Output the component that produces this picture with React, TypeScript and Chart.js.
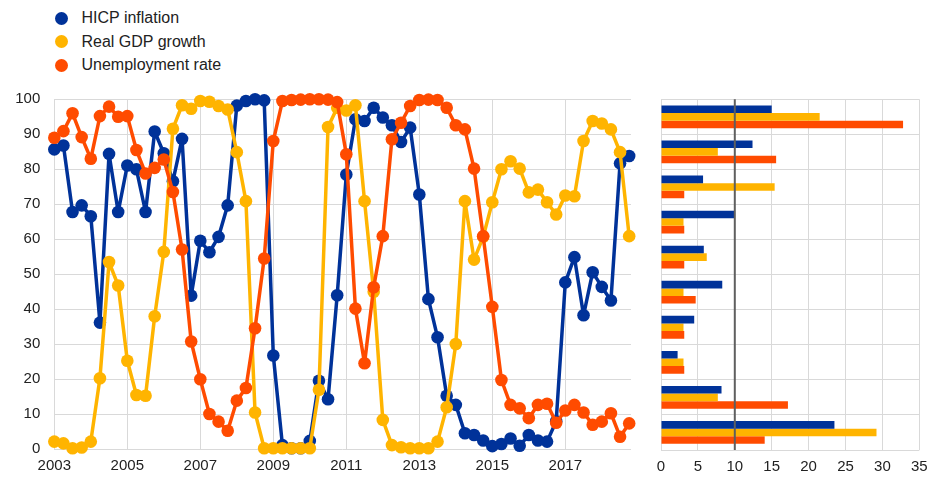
import React, { useEffect, useRef } from "react";
import { Chart, registerables } from "chart.js";

Chart.register(...registerables);

// ---------- data ----------
const quarters = [
  "2003Q1", "2003Q2", "2003Q3", "2003Q4", "2004Q1", "2004Q2", "2004Q3", "2004Q4",
  "2005Q1", "2005Q2", "2005Q3", "2005Q4", "2006Q1", "2006Q2", "2006Q3", "2006Q4",
  "2007Q1", "2007Q2", "2007Q3", "2007Q4", "2008Q1", "2008Q2", "2008Q3", "2008Q4",
  "2009Q1", "2009Q2", "2009Q3", "2009Q4", "2010Q1", "2010Q2", "2010Q3", "2010Q4",
  "2011Q1", "2011Q2", "2011Q3", "2011Q4", "2012Q1", "2012Q2", "2012Q3", "2012Q4",
  "2013Q1", "2013Q2", "2013Q3", "2013Q4", "2014Q1", "2014Q2", "2014Q3", "2014Q4",
  "2015Q1", "2015Q2", "2015Q3", "2015Q4", "2016Q1", "2016Q2", "2016Q3", "2016Q4",
  "2017Q1", "2017Q2", "2017Q3", "2017Q4", "2018Q1", "2018Q2", "2018Q3", "2018Q4",
];

const hicpInflation = [
  85.7, 86.8, 67.8, 69.7, 66.6, 36.2, 84.4, 67.8,
  81.1, 80.0, 67.8, 90.8, 84.6, 76.6, 88.7, 43.9,
  59.6, 56.3, 60.7, 69.7, 98.2, 99.5, 100, 99.7,
  26.8, 1.2, 0.3, 0.3, 2.4, 19.6, 14.3, 44.0,
  78.5, 94.3, 93.8, 97.6, 94.8, 92.6, 87.8, 91.9,
  72.8, 42.9, 32.0, 15.3, 12.7, 4.6, 4.1, 2.5,
  0.9, 1.5, 3.1, 1.0, 4.1, 2.5, 2.2, 8.0,
  47.7, 54.9, 38.3, 50.6, 46.4, 42.5, 81.7, 83.8,
];

const realGdpGrowth = [
  2.2, 1.7, 0.3, 0.5, 2.2, 20.3, 53.5, 46.8,
  25.3, 15.5, 15.3, 38.0, 56.4, 91.6, 98.3, 97.3,
  99.5, 99.3, 98.1, 97.1, 84.9, 70.9, 10.5, 0.3,
  0.3, 0.3, 0.3, 0.3, 0.3, 17.0, 92.1, 97.6,
  96.8, 98.3, 70.9, 45.0, 8.4, 1.2, 0.6, 0.3,
  0.3, 0.3, 2.2, 12.0, 30.1, 70.9, 54.2, 60.7,
  70.6, 80.0, 82.3, 80.2, 73.4, 74.2, 70.6, 67.1,
  72.5, 72.3, 88.1, 93.8, 93.1, 91.4, 84.9, 60.9,
];

const unemploymentRate = [
  89.0, 90.9, 96.0, 89.2, 83.0, 95.2, 97.9, 95.0,
  95.2, 85.5, 78.8, 80.4, 82.8, 73.5, 57.1, 30.8,
  20.0, 10.1, 7.9, 5.3, 13.9, 17.5, 34.6, 54.5,
  88.1, 99.5, 99.8, 99.9, 100, 100, 99.9, 99.2,
  84.3, 40.2, 24.6, 46.3, 60.9, 88.6, 93.3, 98.1,
  99.8, 99.9, 99.8, 97.6, 92.6, 91.4, 80.2, 60.9,
  40.7, 19.8, 12.7, 11.7, 8.9, 12.7, 13.0, 7.6,
  11.1, 12.7, 10.5, 7.0, 7.9, 10.3, 3.6, 7.4,
];

const yearTicks = [2003, 2005, 2007, 2009, 2011, 2013, 2015, 2017];

const barCategories = ["1", "2", "3", "4", "5", "6", "7", "8", "9", "10"];
const hicpBars = [15.0, 12.4, 5.7, 9.9, 5.8, 8.3, 4.5, 2.25, 8.2, 23.5];
const gdpBars = [21.5, 7.7, 15.4, 3.05, 6.2, 3.05, 3.05, 3.05, 7.7, 29.2];
const unemploymentBars = [32.8, 15.6, 3.15, 3.15, 3.15, 4.7, 3.15, 3.15, 17.2, 14.05];
const barReferenceValue = 10;

const seriesNames = ["HICP inflation", "Real GDP growth", "Unemployment rate"];

// ---------- styles ----------
const BLUE = "#003299";
const YELLOW = "#FFB400";
const RED = "#FF4B00";
const GRID = "#d9d9d9";
const TEXT = "#222222";
const FONT = "'Liberation Sans', Arial, sans-serif";

const quarterToX = (q: string) => Number(q.slice(0, 4)) + (Number(q.slice(5)) - 1) / 4;

const noPad = (s: any) => {
  s.paddingTop = 0;
  s.paddingBottom = 0;
  s.paddingLeft = 0;
  s.paddingRight = 0;
};

function LineChart() {
  const ref = useRef<HTMLCanvasElement | null>(null);
  useEffect(() => {
    if (!ref.current) return;
    const mk = (label: string, values: number[], color: string, order: number) => ({
      label,
      data: quarters.map((q, i) => ({ x: quarterToX(q), y: values[i] })),
      borderColor: color,
      backgroundColor: color,
      pointBackgroundColor: color,
      pointBorderColor: color,
      pointBorderWidth: 0,
      pointRadius: 6.3,
      borderWidth: 3.5,
      borderJoinStyle: "round" as const,
      borderCapStyle: "round" as const,
      tension: 0,
      clip: false as const,
      order,
    });
    const chart = new Chart(ref.current, {
      type: "line",
      data: {
        datasets: [
          mk(seriesNames[0], hicpInflation, BLUE, 3),
          mk(seriesNames[1], realGdpGrowth, YELLOW, 2),
          mk(seriesNames[2], unemploymentRate, RED, 1),
        ],
      },
      options: {
        animation: false,
        responsive: false,
        devicePixelRatio: 1,
        layout: { autoPadding: false, padding: { left: 0, right: 14, top: 14.3, bottom: 0 } },
        plugins: { legend: { display: false }, tooltip: { enabled: false } },
        scales: {
          x: {
            type: "linear",
            min: 2003,
            max: 2018.8,
            afterBuildTicks: (s: any) => {
              s.ticks = yearTicks.map((v) => ({ value: v }));
            },
            afterFit: (s: any) => {
              s.height = 27.7;
              noPad(s);
            },
            ticks: {
              autoSkip: false,
              maxRotation: 0,
              padding: 8,
              color: TEXT,
              font: { family: FONT, size: 15 },
              callback: (v: any) => String(v),
            },
            grid: { color: GRID, lineWidth: 1, drawTicks: false },
            border: { display: false },
          },
          y: {
            min: 0,
            max: 100,
            ticks: {
              stepSize: 10,
              padding: 14,
              color: TEXT,
              font: { family: FONT, size: 15 },
            },
            afterFit: (s: any) => {
              s.width = 54.3;
              noPad(s);
            },
            grid: { color: GRID, lineWidth: 1, drawTicks: false },
            border: { display: false },
          },
        },
      },
    });
    return () => chart.destroy();
  }, []);
  return (
    <canvas
      ref={ref}
      width={645}
      height={392}
      style={{ position: "absolute", left: 0, top: 85, width: 645, height: 392 }}
    />
  );
}

function BarChart() {
  const ref = useRef<HTMLCanvasElement | null>(null);
  useEffect(() => {
    if (!ref.current) return;
    const refLine = {
      id: "refLine",
      afterDatasetsDraw(chart: any) {
        const { ctx, chartArea, scales } = chart;
        const x = scales.x.getPixelForValue(barReferenceValue);
        ctx.save();
        ctx.strokeStyle = "#5f5f5f";
        ctx.lineWidth = 2;
        ctx.beginPath();
        ctx.moveTo(x, chartArea.top);
        ctx.lineTo(x, chartArea.bottom);
        ctx.stroke();
        ctx.restore();
      },
    };
    const mk = (label: string, values: number[], color: string) => ({
      label,
      data: values,
      backgroundColor: color,
      borderWidth: 0,
      barPercentage: 1,
      categoryPercentage: 0.65,
    });
    const chart = new Chart(ref.current, {
      type: "bar",
      data: {
        labels: barCategories,
        datasets: [
          mk(seriesNames[0], hicpBars, BLUE),
          mk(seriesNames[1], gdpBars, YELLOW),
          mk(seriesNames[2], unemploymentBars, RED),
        ],
      },
      options: {
        indexAxis: "y",
        animation: false,
        responsive: false,
        devicePixelRatio: 1,
        layout: { autoPadding: false, padding: { left: 0, right: 9.7, top: 14.3, bottom: 0 } },
        plugins: { legend: { display: false }, tooltip: { enabled: false } },
        scales: {
          x: {
            min: 0,
            max: 35,
            ticks: {
              stepSize: 5,
              padding: 8,
              color: TEXT,
              font: { family: FONT, size: 15 },
              maxRotation: 0,
            },
            afterFit: (s: any) => {
              s.height = 27;
              noPad(s);
            },
            grid: { color: GRID, lineWidth: 1, drawTicks: false },
            border: { display: false },
          },
          y: {
            ticks: { display: false },
            afterFit: (s: any) => {
              s.width = 16;
              noPad(s);
            },
            grid: { color: GRID, lineWidth: 1, drawTicks: false, offset: true },
            border: { display: false },
          },
        },
      },
      plugins: [refLine],
    });
    return () => chart.destroy();
  }, []);
  return (
    <canvas
      ref={ref}
      width={284}
      height={392}
      style={{ position: "absolute", left: 645, top: 85, width: 284, height: 392 }}
    />
  );
}

function Legend() {
  const colors = [BLUE, YELLOW, RED];
  return (
    <div style={{ position: "absolute", left: 0, top: 0 }}>
      {seriesNames.map((name, i) => (
        <div
          key={name}
          style={{
            position: "absolute",
            left: 55,
            top: 18.3 + i * 23.35 - 10,
            height: 20,
            display: "flex",
            alignItems: "center",
            whiteSpace: "nowrap",
            fontFamily: FONT,
            fontSize: 16,
            color: TEXT,
          }}
        >
          <span
            style={{
              display: "inline-block",
              width: 13,
              height: 13,
              borderRadius: "50%",
              background: colors[i],
              marginRight: 13.5,
            }}
          />
          <span>{name}</span>
        </div>
      ))}
    </div>
  );
}

export default function App() {
  return (
    <div
      style={{
        position: "absolute",
        left: 0,
        top: 0,
        width: 929,
        height: 477,
        background: "#ffffff",
        overflow: "hidden",
      }}
    >
      <Legend />
      <LineChart />
      <BarChart />
    </div>
  );
}
